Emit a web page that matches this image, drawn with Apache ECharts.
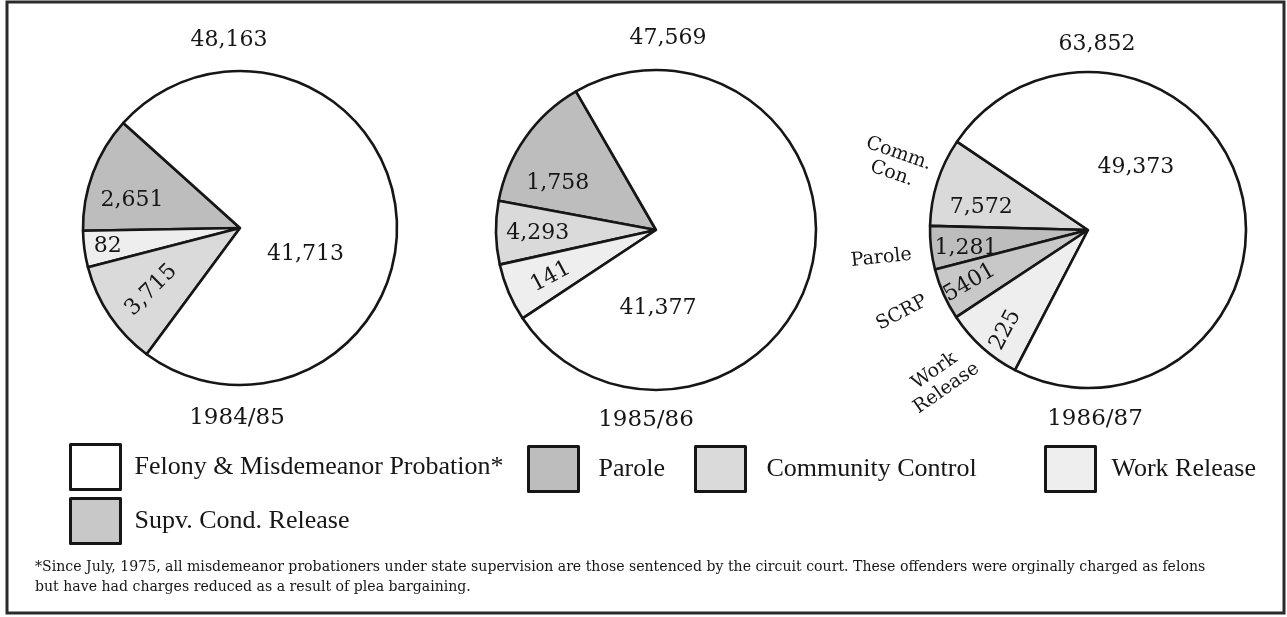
<!DOCTYPE html>
<html>
<head>
<meta charset="utf-8">
<title>Offenders under supervision</title>
<script src="https://cdn.jsdelivr.net/npm/echarts@6/dist/echarts.min.js"></script>
<style>
  html, body { margin: 0; padding: 0; background: #fff; }
  #chart { width: 1287px; height: 617px; }
</style>
</head>
<body>
<div id="chart"></div>
<script>
// legend categories
var categories = ['Felony & Misdemeanor Probation*', 'Parole', 'Community Control', 'Work Release', 'Supv. Cond. Release'];
var years = ['1984/85', '1985/86', '1986/87'];
var totals = ['48,163', '47,569', '63,852'];

// slices in drawing order (counter-clockwise from the first edge)
// counts = printed numbers, drawn = wedge size in degrees as drawn (artwork is not to scale)
var slices8485 = ['Parole', 'Work Release', 'Community Control', 'Felony & Misdemeanor Probation*'];
var counts8485 = ['2,651', '82', '3,715', '41,713'];
var drawn8485 = [43, 13.5, 39, 264.5];

var slices8586 = ['Parole', 'Community Control', 'Work Release', 'Felony & Misdemeanor Probation*'];
var counts8586 = ['1,758', '4,293', '141', '41,377'];
var drawn8586 = [49.5, 23, 21, 266.5];

var slices8687 = ['Community Control', 'Parole', 'Supv. Cond. Release', 'Work Release', 'Felony & Misdemeanor Probation*'];
var counts8687 = ['7,572', '1,281', '5401', '225', '49,373'];
var drawn8687 = [32.5, 16, 19, 29, 263.5];
var tags8687 = ['Comm.\nCon.', 'Parole', 'SCRP', 'Work\nRelease', ''];

var footnote = '*Since July, 1975, all misdemeanor probationers under state supervision are those sentenced by the circuit court. These offenders were orginally charged as felons\nbut have had charges reduced as a result of plea bargaining.';

// ---- layout / style ----
var colorOf = {
  'Felony & Misdemeanor Probation*': '#ffffff',
  'Parole': '#bdbdbd',
  'Community Control': '#dadada',
  'Work Release': '#eeeeee',
  'Supv. Cond. Release': '#c8c8c8'
};
var ink = '#161616';
var pies = [
  { cx: 240, cy: 228, r: 157, start: 138 },
  { cx: 656, cy: 230, r: 160, start: 120 },
  { cx: 1088, cy: 230, r: 158, start: 146 }
];
// label spots: [angle deg, fraction of radius, text rotation]
var place8485 = [[165.5, 0.71, 0], [188, 0.85, 0], [215, 0.69, 45], [338, 0.45, 0]];
var place8586 = [[154.5, 0.68, 0], [181.5, 0.74, 0], [204, 0.72, 28], [271.5, 0.49, 0]];
var place8687 = [[168, 0.69, 0], [188.5, 0.78, 0], [204, 0.82, 30], [230.5, 0.82, 62], [52.7, 0.50, 0]];
var tagPlace8687 = [[161, 1.29, -19], [187.7, 1.32, 6], [204, 1.29, 28], [225.4, 1.33, 35], [0, 0, 0]];

function spot(g, q) {
  var a = q[0] * Math.PI / 180;
  return { x: g.cx + q[1] * g.r * Math.cos(a), y: g.cy - q[1] * g.r * Math.sin(a), rotate: q[2], align: 'center', verticalAlign: 'middle' };
}

function pieSeries(k, slices, drawn, counts, place) {
  var g = pies[k];
  return {
    type: 'pie',
    center: [g.cx, g.cy],
    radius: g.r,
    startAngle: g.start,
    clockwise: false,
    avoidLabelOverlap: false,
    silent: true,
    animation: false,
    itemStyle: { borderColor: ink, borderWidth: 2.6 },
    label: {
      show: true, position: 'inside', color: ink, textBorderWidth: 0,
      fontFamily: 'DejaVu Serif', fontSize: 22,
      formatter: function (p) { return counts[p.dataIndex]; }
    },
    labelLine: { show: false },
    emphasis: { disabled: true },
    data: slices.map(function (name, i) {
      return { name: name, value: drawn[i], itemStyle: { color: colorOf[name] } };
    }),
    labelLayout: function (p) { return spot(g, place[p.dataIndex]); }
  };
}

// names written beside the 1986/87 pie
function tagSeries() {
  var g = pies[2];
  return {
    type: 'pie',
    center: [g.cx, g.cy],
    radius: g.r,
    startAngle: g.start,
    clockwise: false,
    avoidLabelOverlap: false,
    silent: true,
    animation: false,
    legendHoverLink: false,
    itemStyle: { color: 'rgba(0,0,0,0)', borderWidth: 0 },
    label: {
      show: true, position: 'inside', color: ink, textBorderWidth: 0,
      fontFamily: 'DejaVu Serif', fontSize: 19, lineHeight: 21,
      formatter: function (p) { return tags8687[p.dataIndex]; }
    },
    labelLine: { show: false },
    emphasis: { disabled: true },
    data: slices8687.map(function (name, i) { return { name: name, value: drawn8687[i] }; }),
    labelLayout: function (p) { return spot(g, tagPlace8687[p.dataIndex]); }
  };
}

function legendAt(name, left, top, gap) {
  return {
    data: [name], left: left, top: top, padding: 0,
    icon: 'rect', itemWidth: 50, itemHeight: 45,
    selectedMode: false,
    itemStyle: { borderColor: ink, borderWidth: 3 },
    textStyle: { fontFamily: 'Liberation Serif', fontSize: 26, color: ink, padding: [0, 0, 0, gap] }
  };
}

var totalPos = [[229, 40], [668, 38], [1097, 44]];
var yearPos = [[237, 418], [646, 420], [1095, 419]];

var graphics = [{
  type: 'rect', silent: true,
  shape: { x: 7, y: 2, width: 1277, height: 611 },
  style: { fill: 'none', stroke: '#2a2a2a', lineWidth: 3 }
}];
totals.forEach(function (t, i) {
  graphics.push({ type: 'text', x: totalPos[i][0], y: totalPos[i][1], silent: true,
    style: { text: t, fontFamily: 'DejaVu Serif', fontSize: 22, fill: ink,
      align: 'center', verticalAlign: 'middle', textAlign: 'center', textVerticalAlign: 'middle' } });
});
years.forEach(function (t, i) {
  graphics.push({ type: 'text', x: yearPos[i][0], y: yearPos[i][1], silent: true,
    style: { text: t, fontFamily: 'DejaVu Serif', fontSize: 23, fill: ink,
      align: 'center', verticalAlign: 'middle', textAlign: 'center', textVerticalAlign: 'middle' } });
});
graphics.push({ type: 'text', x: 35, y: 557, silent: true,
  style: { text: footnote, fontFamily: 'DejaVu Serif', fontSize: 14.1, lineHeight: 20, fill: ink,
    align: 'left', verticalAlign: 'top', textAlign: 'left', textVerticalAlign: 'top' } });

var option = {
  backgroundColor: '#fff',
  animation: false,
  legend: [
    legendAt(categories[0], 69, 443, 9),
    legendAt(categories[1], 527, 445, 15),
    legendAt(categories[2], 694, 445, 16),
    legendAt(categories[3], 1044, 445, 11),
    legendAt(categories[4], 69, 497, 9)
  ],
  series: [
    pieSeries(0, slices8485, drawn8485, counts8485, place8485),
    pieSeries(1, slices8586, drawn8586, counts8586, place8586),
    pieSeries(2, slices8687, drawn8687, counts8687, place8687),
    tagSeries()
  ],
  graphic: graphics
};

var myChart = echarts.init(document.getElementById('chart'));
myChart.setOption(option);
</script>
</body>
</html>
